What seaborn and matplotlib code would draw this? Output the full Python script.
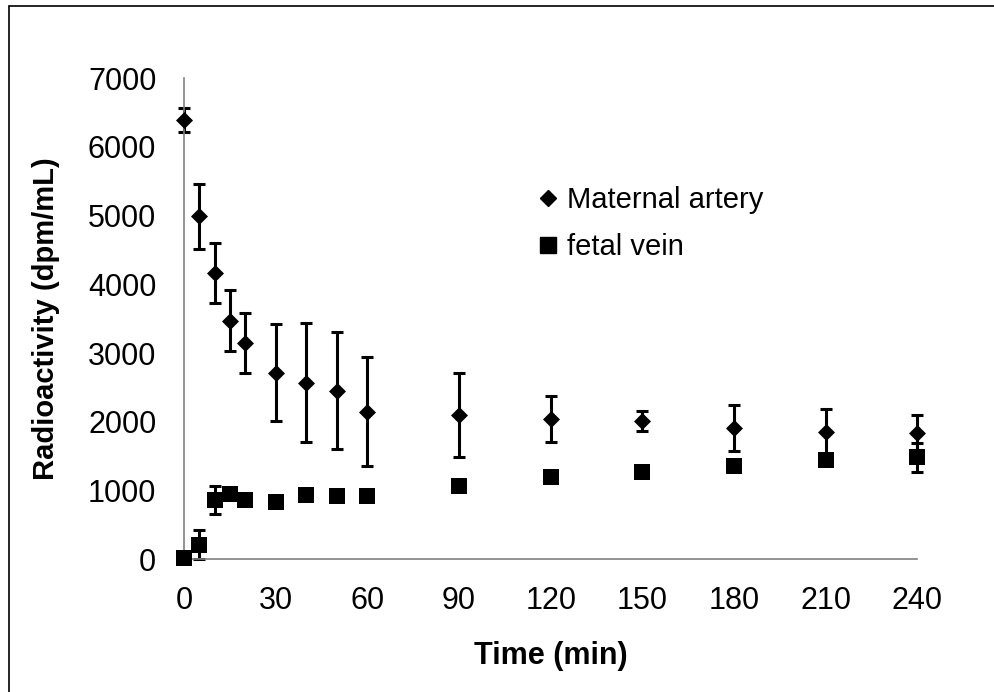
import numpy as np
import pandas as pd
import matplotlib
matplotlib.use('Agg')
import matplotlib.pyplot as plt
from matplotlib.lines import Line2D
import seaborn as sns

# --- Data ---
time_min = [0, 5, 10, 15, 20, 30, 40, 50, 60, 90, 120, 150, 180, 210, 240]

maternal_mean = [6390, 4990, 4170, 3470, 3150, 2715, 2565, 2450, 2145,
                 2100, 2040, 2010, 1910, 1845, 1840]
maternal_err = [170, 470, 435, 445, 437, 703, 866, 849, 795,
                614, 330, 150, 335, 336, 258]

fetal_mean = [20, 210, 860, 945, 860, 835, 930, 920, 920,
              1060, 1195, 1265, 1350, 1440, 1480]
fetal_err = [20, 210, 200, 40, 30, 30, 60, 30, 30,
             30, 30, 30, 60, 50, 215]

series_names = ['Maternal artery', 'fetal vein']
x_ticks = [0, 30, 60, 90, 120, 150, 180, 210, 240]
y_ticks = [0, 1000, 2000, 3000, 4000, 5000, 6000, 7000]

df = pd.DataFrame({
    'time': time_min * 2,
    'value': maternal_mean + fetal_mean,
    'err': maternal_err + fetal_err,
    'series': [series_names[0]] * len(time_min) + [series_names[1]] * len(time_min),
})

sns.set_theme(style='white')
plt.rcParams['font.family'] = ['Liberation Sans', 'DejaVu Sans']
plt.rcParams['text.color'] = 'black'
plt.rcParams['axes.labelcolor'] = 'black'

fig = plt.figure(figsize=(9.95, 6.92), dpi=100)
ax = fig.add_axes([0.185, 0.192, 0.737, 0.695])

# Error bars first, then markers on top
for name in series_names:
    sub = df[df['series'] == name]
    _, caps, bars = ax.errorbar(sub['time'], sub['value'], yerr=sub['err'], fmt='none',
                                ecolor='black', elinewidth=2.2, capsize=4.5,
                                capthick=2.2, zorder=2)
    for art in list(caps) + list(bars):
        art.set_clip_on(False)

marker_map = {series_names[0]: 'D', series_names[1]: 's'}
size_map = {series_names[0]: 75, series_names[1]: 125}
for name in series_names:
    sub = df[df['series'] == name]
    sns.scatterplot(data=sub, x='time', y='value', marker=marker_map[name],
                    s=size_map[name], color='black', edgecolor='black',
                    linewidth=0, ax=ax, zorder=3, legend=False, clip_on=False)

ax.set_xlim(0, 240)
ax.set_ylim(0, 7000)
ax.set_xticks(x_ticks)
ax.set_yticks(y_ticks)
ax.tick_params(axis='both', labelsize=22, colors='#808080', length=7,
               width=1.2, direction='out', pad=13, labelcolor='black')
ax.tick_params(axis='x', pad=12)

for side in ['top', 'right']:
    ax.spines[side].set_visible(False)
for side in ['left', 'bottom']:
    ax.spines[side].set_color('#808080')
    ax.spines[side].set_linewidth(1.2)

ax.set_xlabel('Time (min)', fontsize=22, fontweight='bold', labelpad=18)
ax.set_ylabel('Radioactivity (dpm/mL)', fontsize=21, fontweight='bold', labelpad=20)

handles = [
    Line2D([], [], marker='D', color='black', linestyle='none', markersize=8),
    Line2D([], [], marker='s', color='black', linestyle='none', markersize=11),
]
ax.legend(handles, series_names, loc='upper left', bbox_to_anchor=(0.46, 0.80),
          frameon=False, fontsize=21, handletextpad=0.15, handlelength=1.0,
          labelspacing=0.65, borderaxespad=0)

# Figure frame (only left and top edges are visible in the source)
fig.add_artist(Line2D([0.0095, 0.0095], [0, 0.992], transform=fig.transFigure,
                      color='black', linewidth=1.2))
fig.add_artist(Line2D([0.0095, 1.0], [0.992, 0.992], transform=fig.transFigure,
                      color='black', linewidth=1.2))

fig.savefig('out.png', dpi=100)
